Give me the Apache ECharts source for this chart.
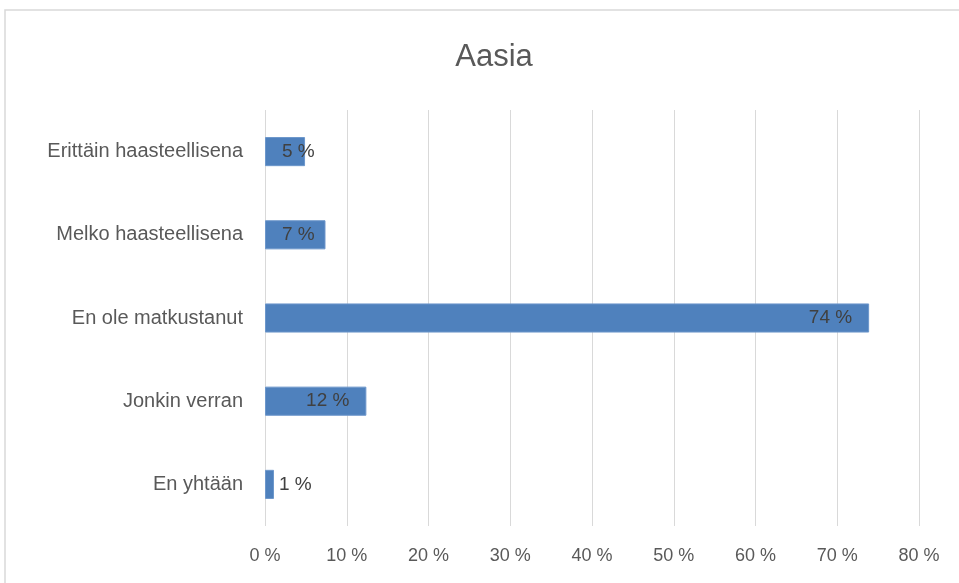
<!DOCTYPE html>
<html lang="fi">
<head>
    <meta charset="UTF-8">
    <title>Aasia</title>
    <style>
        html, body { margin: 0; padding: 0; background: #fff; }
        #main { width: 959px; height: 583px; }
    </style>
</head>
<body>
    <div id="main"></div>
    <script src="https://cdn.jsdelivr.net/npm/echarts@6/dist/echarts.min.js"></script>
    <script>
        // data, top to bottom as in the picture
        var categories = ['Erittäin haasteellisena', 'Melko haasteellisena', 'En ole matkustanut', 'Jonkin verran', 'En yhtään'];
        var values = [4.9, 7.4, 73.9, 12.4, 1.1];
        var tickValues = [0, 10, 20, 30, 40, 50, 60, 70, 80];

        var font = "'Liberation Sans', sans-serif";

        var mychart = echarts.init(document.getElementById('main'));

        // Excel-like label placement: inside end for wide bars, clamped for small ones
        var barData = values.map(function (v) {
            var pos = v >= 10 ? 'insideRight' : (v >= 3 ? 'insideLeft' : 'right');
            return { value: v, label: { position: pos, distance: pos === 'right' ? 5 : 17 } };
        });

        var option = {
            backgroundColor: '#fff',
            animation: false,
            title: {
                text: 'Aasia',
                left: 489,
                top: 37,
                textAlign: 'center',
                textStyle: { fontFamily: font, fontSize: 31, fontWeight: 'normal', color: '#595959' }
            },
            graphic: [{
                type: 'rect',
                shape: { x: 5, y: 10, width: 1000, height: 1000 },
                style: { fill: 'none', stroke: '#d9d9d9', lineWidth: 1.5 },
                silent: true
            }],
            grid: { left: 265, right: 40, top: 110, bottom: 57 },
            xAxis: {
                type: 'value',
                min: 0,
                max: 80,
                interval: 10,
                axisLine: { show: false },
                axisTick: { show: false },
                splitLine: { lineStyle: { color: '#d9d9d9', width: 1 } },
                axisLabel: {
                    margin: 21,
                    fontFamily: font, fontSize: 18, color: '#595959',
                    formatter: function (v) { return tickValues.indexOf(v) >= 0 ? v + ' %' : ''; }
                }
            },
            yAxis: {
                type: 'category',
                inverse: true,
                data: categories,
                axisLine: { show: false },
                axisTick: { show: false },
                axisLabel: { margin: 22, fontFamily: font, fontSize: 20, color: '#595959' }
            },
            series: [{
                type: 'bar',
                data: barData,
                barWidth: '35%',
                itemStyle: { color: '#4f81bd', borderColor: '#6d97cb', borderWidth: 1 },
                label: {
                    show: true,
                    fontFamily: font, fontSize: 19, color: '#404040',
                    formatter: function (p) { return Math.round(p.value) + ' %'; }
                }
            }]
        };
        option && mychart.setOption(option);
    </script>
</body>
</html>
